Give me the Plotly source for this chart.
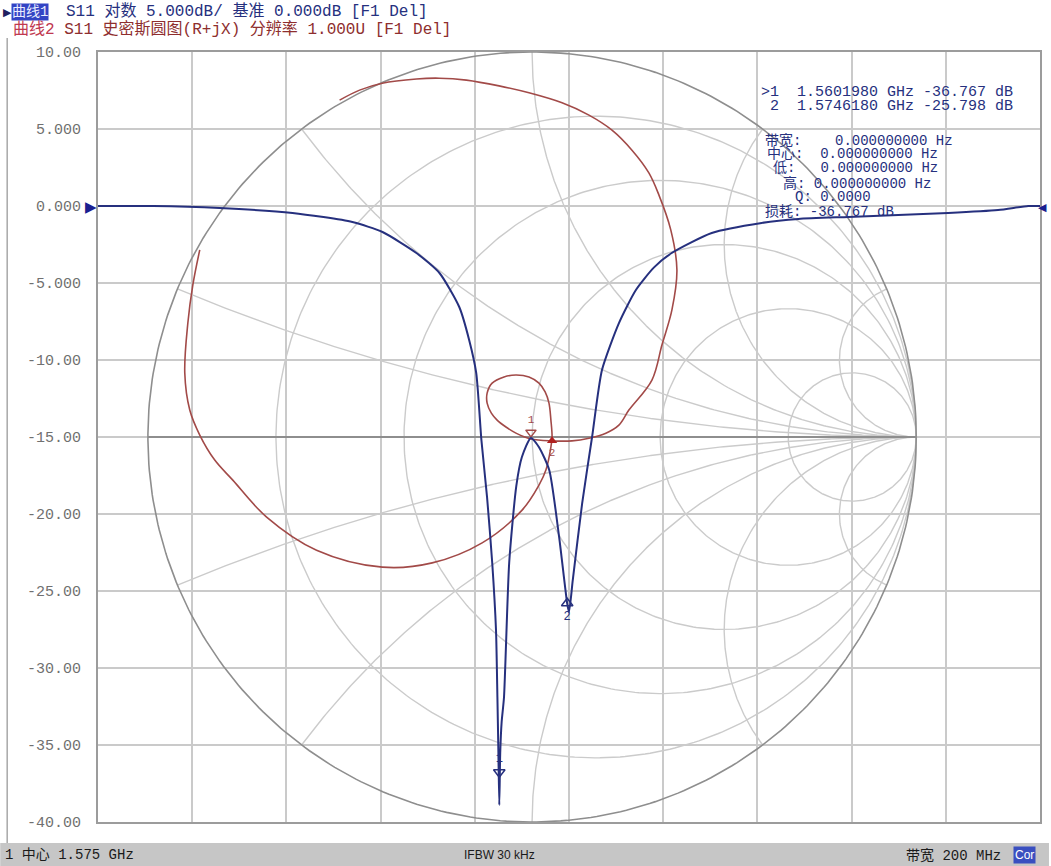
import numpy as np
import plotly.graph_objects as go

# ---------------- data ----------------
center_ghz = 1.575
span_mhz = 200
ifbw_khz = 30

# Trace 1: S11 log magnitude (dB) vs frequency (GHz)
s11_freq_ghz = [1.4750, 1.4867, 1.5008, 1.5163, 1.5290, 1.5354, 1.5426, 1.5475, 1.5517, 1.5538,
                1.5553, 1.5564, 1.5576, 1.5587, 1.5595, 1.5598, 1.5600, 1.5602, 1.5604, 1.5607,
                1.5612, 1.5623, 1.5638, 1.5650, 1.5669, 1.5686, 1.5708, 1.5729, 1.5746, 1.5750,
                1.5758, 1.5778, 1.5799, 1.5820, 1.5856, 1.5892, 1.5930, 1.5968, 1.6053, 1.6159,
                1.6237, 1.6343, 1.6449, 1.6555, 1.6661, 1.6725, 1.6750]
s11_db = [0.00, 0.00, -0.13, -0.45, -1.04, -1.69, -3.05, -4.35, -6.56, -8.70,
          -10.84, -15.19, -18.90, -23.18, -27.53, -31.90, -35.30, -38.90, -35.50, -33.50,
          -31.90, -23.18, -18.20, -16.30, -15.06, -15.65, -17.14, -21.49, -25.78, -26.36,
          -24.30, -19.29, -15.00, -10.65, -7.60, -5.45, -4.00, -3.05, -1.75, -1.10,
          -0.84, -0.71, -0.58, -0.45, -0.26, 0.00, 0.00]

# Trace 2: S11 on the Smith chart (reflection coefficient, real / imaginary)
s11_re = [-0.865, -0.883, -0.896, -0.904, -0.891, -0.865, -0.826, -0.779, -0.691, -0.561,
          -0.390, -0.260, -0.130, -0.026, 0.018, 0.036, 0.049, 0.052, 0.049, 0.044,
          0.034, 0.018, -0.008, -0.042, -0.073, -0.104, -0.117, -0.117, -0.106, -0.091,
          -0.068, -0.042, -0.003, 0.052, 0.104, 0.148, 0.192, 0.226, 0.252, 0.312,
          0.338, 0.364, 0.377, 0.361, 0.330, 0.304, 0.260, 0.208, 0.148, 0.078,
          -0.008, -0.086, -0.171, -0.242, -0.301, -0.390, -0.449, -0.501]
s11_im = [0.486, 0.395, 0.296, 0.166, 0.070, 0.005, -0.060, -0.112, -0.208, -0.294,
          -0.338, -0.327, -0.275, -0.190, -0.125, -0.086, -0.026, 0.000, 0.044, 0.088,
          0.117, 0.140, 0.156, 0.161, 0.156, 0.140, 0.114, 0.088, 0.062, 0.044,
          0.026, 0.010, -0.005, -0.010, -0.010, -0.003, 0.010, 0.031, 0.070, 0.148,
          0.239, 0.330, 0.434, 0.538, 0.629, 0.686, 0.745, 0.797, 0.836, 0.868,
          0.894, 0.912, 0.927, 0.932, 0.930, 0.919, 0.901, 0.875]

# Markers
marker_freq_ghz = [1.5601980, 1.5746180]
marker_db = [-36.767, -25.798]
smith_marker_re = [-0.003, 0.052]
smith_marker_im = [0.012, -0.010]
indicator_freq_ghz = [1.5517, 1.5602, 1.5672, 1.5746]

y_tick_vals = [10, 5, 0, -5, -10, -15, -20, -25, -30, -35, -40]
y_tick_text = ["10.00", "5.000", "0.000", "-5.000", "-10.00", "-15.00",
               "-20.00", "-25.00", "-30.00", "-35.00", "-40.00"]

smith_r = [0.2, 0.5, 1, 2, 5]
smith_x = [0.2, 0.5, 1, 2, 5]

# ---------------- layout helpers ----------------
W, H = 1051, 866
ML, MR, MT, MB = 98, 9, 52, 44
PW, PH = W - ML - MR, H - MT - MB


def PX(px):
    return (px - ML) / PW


def PY(py):
    return (H - MB - py) / PH


NAVY = "#26307e"
RED = "#a24a48"
MONO = "Liberation Mono, Noto Sans CJK SC, monospace"

f_lo = center_ghz - span_mhz / 2000
f_hi = center_ghz + span_mhz / 2000

# Smith axis range so the unit circle is round: centre at pixel 533, radius 385
g_scale = PH / 2.0
g_left = (ML - 533) / g_scale
g_right = (W - MR - 533) / g_scale

fig = go.Figure()

# ---- Smith chart grid (main axes x/y) ----
gx, gy = [], []
t = np.linspace(0, 2 * np.pi, 400)
for r in smith_r:
    c, rad = r / (1 + r), 1 / (1 + r)
    gx += list(c + rad * np.cos(t)) + [None]
    gy += list(rad * np.sin(t)) + [None]
rr = np.concatenate([np.linspace(0, 2, 300), np.logspace(np.log10(2), 4, 300)])
for xv in smith_x:
    for s in (1, -1):
        z = rr + 1j * s * xv
        g = (z - 1) / (z + 1)
        gx += list(g.real) + [None]
        gy += list(g.imag) + [None]
fig.add_trace(go.Scatter(x=gx, y=gy, mode="lines", line=dict(color="#cbcbcb", width=1.4),
                         hoverinfo="skip", xaxis="x", yaxis="y"))
fig.add_trace(go.Scatter(x=list(np.cos(t)), y=list(np.sin(t)), mode="lines",
                         line=dict(color="#8e8e8e", width=1.6), hoverinfo="skip", xaxis="x", yaxis="y"))
fig.add_trace(go.Scatter(x=[-1, 1], y=[0, 0], mode="lines",
                         line=dict(color="#8e8e8e", width=2.2), hoverinfo="skip", xaxis="x", yaxis="y"))

# ---- Smith trace (red) ----
fig.add_trace(go.Scatter(x=s11_re, y=s11_im, mode="lines",
                         line=dict(color=RED, width=1.6, shape="spline", smoothing=1.0),
                         xaxis="x", yaxis="y"))
fig.add_trace(go.Scatter(x=[smith_marker_re[0]], y=[smith_marker_im[0]], mode="markers+text",
                         marker=dict(symbol="triangle-down-open", size=9, color=RED, line=dict(width=1.5)),
                         text=["1"], textposition="top center",
                         textfont=dict(color=RED, size=11, family=MONO), xaxis="x", yaxis="y"))
fig.add_trace(go.Scatter(x=[smith_marker_re[1]], y=[smith_marker_im[1]], mode="markers+text",
                         marker=dict(symbol="triangle-up", size=9, color="#b02020"),
                         text=["2"], textposition="bottom center",
                         textfont=dict(color=RED, size=11, family=MONO), xaxis="x", yaxis="y"))

# ---- Log-mag trace (blue) on overlay axes ----
fig.add_trace(go.Scatter(x=s11_freq_ghz, y=s11_db, mode="lines",
                         line=dict(color=NAVY, width=2, shape="spline", smoothing=0.6),
                         xaxis="x2", yaxis="y2"))
fig.add_trace(go.Scatter(x=[marker_freq_ghz[0]], y=[marker_db[0]], mode="markers+text",
                         marker=dict(symbol="triangle-down-open", size=10, color=NAVY, line=dict(width=1.5)),
                         text=["1"], textposition="top center",
                         textfont=dict(color=NAVY, size=12, family=MONO), xaxis="x2", yaxis="y2"))
fig.add_trace(go.Scatter(x=[marker_freq_ghz[1]], y=[marker_db[1]], mode="markers+text",
                         marker=dict(symbol="triangle-up-open", size=10, color=NAVY, line=dict(width=1.5)),
                         text=["2"], textposition="bottom center",
                         textfont=dict(color=NAVY, size=12, family=MONO), xaxis="x2", yaxis="y2"))

# ---- marker indicators below the plot ----
ind_sym = ["triangle-up", "triangle-up", "triangle-up-open", "triangle-up-open"]
ind_col = ["#b41c1c", "#1c1ca8", "#c08a80", "#6070a8"]
fig.add_trace(go.Scatter(x=indicator_freq_ghz, y=[-40.5] * 4, mode="markers",
                         marker=dict(symbol=ind_sym, size=13, color=ind_col, line=dict(width=1.5, color=ind_col)),
                         cliponaxis=False, xaxis="x2", yaxis="y2"))

fig.update_layout(
    width=W, height=H,
    margin=dict(l=ML, r=MR, t=MT, b=MB),
    paper_bgcolor="white", plot_bgcolor="white",
    showlegend=False,
    xaxis=dict(range=[g_left, g_right], visible=False, fixedrange=True),
    yaxis=dict(range=[-1, 1], visible=False, fixedrange=True),
    xaxis2=dict(overlaying="x", side="bottom", range=[f_lo, f_hi], tick0=f_lo, dtick=span_mhz / 10000,
                showgrid=True, gridcolor="#cacaca", gridwidth=2, showticklabels=False, ticks="",
                zeroline=False, showline=True, mirror=True, linecolor="#9c9c9c", linewidth=2),
    yaxis2=dict(overlaying="y", side="left", range=[-40, 10], tickvals=y_tick_vals, ticktext=y_tick_text,
                showgrid=True, gridcolor="#cacaca", gridwidth=2, ticks="", zeroline=False,
                showline=True, mirror=True, linecolor="#9c9c9c", linewidth=2,
                tickfont=dict(family=MONO, size=15, color="#707070"), ticklabelstandoff=12),
)

ann = []
# reference level arrows
ann.append(dict(x=0, y=0, xref="paper", yref="y2", text="▶", showarrow=False, xanchor="right",
                yanchor="middle", font=dict(size=15, color="#1a2090"), xshift=1))
ann.append(dict(x=PX(1051), y=0, xref="paper", yref="y2", text="◀", showarrow=False, xanchor="right",
                yanchor="middle", font=dict(size=11, color="#1a2090")))

# header
ann.append(dict(x=PX(1), y=PY(12), xref="paper", yref="paper", text="▶", showarrow=False,
                xanchor="left", yanchor="middle", font=dict(size=11, color="#202060")))
ann.append(dict(x=PX(11), y=PY(12), xref="paper", yref="paper", text="曲线1", showarrow=False,
                xanchor="left", yanchor="middle", bgcolor="#3344c4", borderpad=0,
                font=dict(size=14, color="#e8ecff", family=MONO)))
ann.append(dict(x=PX(64), y=PY(12), xref="paper", yref="paper",
                text="S11 对数 5.000dB/ 基准 0.000dB [F1 Del]", showarrow=False,
                xanchor="left", yanchor="middle", font=dict(size=16, color=NAVY, family=MONO)))
ann.append(dict(x=PX(11), y=PY(29), xref="paper", yref="paper",
                text='<span style="color:#c03850">曲线2</span> S11 史密斯圆图(R+jX) 分辨率 1.000U [F1 Del]',
                showarrow=False, xanchor="left", yanchor="middle",
                font=dict(size=16, color="#8e2e2e", family=MONO)))

# marker table
for i in range(2):
    lab = ">1" if i == 0 else " 2"
    ann.append(dict(x=PX(760), y=PY(92 + 14 * i), xref="paper", yref="paper",
                    text=f"{lab}  {marker_freq_ghz[i]:.7f} GHz {marker_db[i]:.3f} dB".replace(" ", "&nbsp;"),
                    showarrow=False, xanchor="left", yanchor="middle",
                    font=dict(size=15, color=NAVY, family=MONO)))
stat_labels = ["带宽:", "中心:", "低:", "高:", "Q:", "损耗:"]
stat_values = ["0.000000000 Hz", "0.000000000 Hz", "0.000000000 Hz", "0.000000000 Hz", "0.0000",
               f"{marker_db[0]:.3f} dB"]
stat_y = [140, 154, 168, 183, 197, 212]
stat_lx = [765, 767, 773, 783, 795, 765]
stat_gap = [4, 2, 3, 1, 1, 1]
for lab, val, yy, lx, gp in zip(stat_labels, stat_values, stat_y, stat_lx, stat_gap):
    ann.append(dict(x=PX(lx), y=PY(yy), xref="paper", yref="paper",
                    text=lab + "&nbsp;" * gp + val, showarrow=False,
                    xanchor="left", yanchor="middle", borderpad=0,
                    font=dict(size=14, color=NAVY, family=MONO)))

# bottom status bar
ann.append(dict(x=PX(3), y=PY(855), xref="paper", yref="paper",
                text=f"1 中心 {center_ghz:.3f} GHz", showarrow=False, xanchor="left", yanchor="middle",
                font=dict(size=14, color="#1a1a1a", family=MONO)))
ann.append(dict(x=PX(500), y=PY(855), xref="paper", yref="paper",
                text=f"IFBW {ifbw_khz} kHz", showarrow=False, xanchor="center", yanchor="middle",
                font=dict(size=12, color="#1a1a1a", family="Liberation Sans Narrow, Liberation Sans")))
ann.append(dict(x=PX(1005), y=PY(855), xref="paper", yref="paper",
                text=f"带宽 {span_mhz} MHz", showarrow=False, xanchor="right", yanchor="middle",
                font=dict(size=14, color="#1a1a1a", family=MONO)))
ann.append(dict(x=PX(1026), y=PY(855), xref="paper", yref="paper", text="Cor", showarrow=False,
                xanchor="center", yanchor="middle", bgcolor="#3a4fc0", borderpad=1,
                font=dict(size=12, color="white", family="Liberation Sans")))
fig.update_layout(annotations=ann)

shapes = [
    dict(type="rect", xref="paper", yref="paper", x0=PX(0), x1=PX(W), y0=PY(843), y1=PY(H),
         fillcolor="#c6c6c6", line=dict(width=0), layer="below"),
    dict(type="line", xref="paper", yref="paper", x0=PX(7), x1=PX(7), y0=PY(38), y1=PY(843),
         line=dict(color="#a8a8a8", width=1.5)),
]
fig.update_layout(shapes=shapes)

fig.write_html("out.html", config={"displayModeBar": False},
               post_script="document.body.style.margin='0px';")
